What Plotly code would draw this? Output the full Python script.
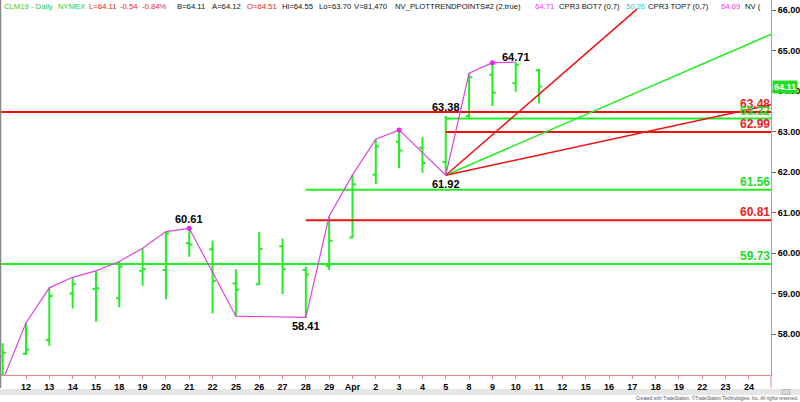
import plotly.graph_objects as go

# ---------------- data ----------------
tick_labels = ["12", "13", "14", "15", "18", "19", "20", "21", "22", "25", "26", "27", "28", "29",
               "Apr", "2", "3", "4", "5", "8", "9", "10", "11", "12", "15", "16", "17", "18", "19",
               "22", "23", "24"]
tick_pos = list(range(len(tick_labels)))

bar_pos = list(range(-1, 23))  # Mar 11 .. Apr 11
bar_open = [57.45, 57.51, 57.85, 59.00, 59.11, 58.88, 59.56, 59.58, 60.25, 60.09, 59.25, 59.23,
            60.17, 59.58, 59.68, 60.38, 61.93, 62.75, 62.60, 62.25, 63.38, 64.40, 64.20, 64.51]
bar_high = [57.77, 58.28, 59.14, 59.40, 59.56, 59.79, 60.12, 60.53, 60.61, 60.30, 59.60, 60.51,
            60.36, 59.66, 60.91, 61.93, 62.81, 63.04, 62.86, 63.38, 64.44, 64.70, 64.71, 64.55]
bar_low = [56.85, 57.48, 57.71, 58.63, 58.30, 58.66, 59.19, 58.86, 59.91, 58.51, 58.44, 59.21,
           58.99, 58.41, 59.58, 60.36, 61.70, 62.09, 61.98, 61.92, 63.30, 63.63, 63.98, 63.70]
bar_close = [57.54, 57.62, 58.94, 59.23, 59.13, 59.66, 59.60, 60.49, 60.21, 59.31, 59.09, 60.10,
             59.60, 59.47, 60.30, 61.70, 62.63, 62.53, 62.22, 63.32, 64.34, 63.96, 64.65, 64.11]

zig_x = [-1, 0, 1, 2, 3, 4, 5, 6, 7, 9, 12, 13, 14, 15, 16, 18, 19, 20, 21]
zig_y = [56.85, 58.28, 59.14, 59.40, 59.56, 59.79, 60.12, 60.53, 60.61, 58.44, 58.41, 60.91,
         61.93, 62.81, 63.04, 61.92, 64.44, 64.70, 64.71]
dot_x = [7, 16, 20]
dot_y = [60.61, 63.04, 64.70]

pivot_labels = ["60.61", "58.41", "63.38", "61.92", "64.71"]
pivot_x = [7, 12, 18, 18, 21]
pivot_y = [60.61, 58.41, 63.38, 61.92, 64.71]
pivot_shift = [9, -9, 9, -9, 5]

level_vals = [63.48, 63.32, 62.99, 61.56, 60.81, 59.73]
level_start = [-2, 18, 18, 12, 12, -2]
level_kind = ["red", "green", "red", "green", "red", "green"]

fan_start_x = 18
fan_start_y = 61.92
fan_end_x = [26.2, 31.95, 31.95]
fan_end_y = [66.02, 65.40, 63.66]
fan_kind = ["red", "green", "red"]

y_ticks = [58, 59, 60, 61, 62, 63, 64, 65, 66]
last_price = 64.11

# ---------------- styling ----------------
GREEN = "#22ee22"
RED = "#ee1111"
LBL_GREEN = "#22dd22"
LBL_RED = "#ee2222"
MAG = "#dd44dd"
AXIS = "#e08a8a"
FONT = "Liberation Sans, Arial, sans-serif"
col = {"red": RED, "green": GREEN}
lblcol = {"red": LBL_RED, "green": LBL_GREEN}

XMIN, XMAX = -1.072, 31.947
YMIN, YMAX = 56.988, 66.247
L, R, T, B = 1, 29, 0, 27
PW, PH = 800 - L - R, 402 - T - B


def px(xp):
    return (xp - L) / PW


def py(yp):
    return (PH + T - yp) / PH


fig = go.Figure()

for v, s, k in zip(level_vals, level_start, level_kind):
    fig.add_trace(go.Scatter(x=[s, XMAX + 1], y=[v, v], mode="lines",
                             line=dict(color=col[k], width=2), hoverinfo="skip"))

fig.add_trace(go.Ohlc(x=bar_pos, open=bar_open, high=bar_high, low=bar_low, close=bar_close,
                      increasing=dict(line=dict(color=GREEN, width=2)),
                      decreasing=dict(line=dict(color=GREEN, width=2)),
                      tickwidth=0.14, hoverinfo="skip"))

for ex, ey, k in zip(fan_end_x, fan_end_y, fan_kind):
    fig.add_trace(go.Scatter(x=[fan_start_x, ex], y=[fan_start_y, ey], mode="lines",
                             line=dict(color=col[k], width=1.5), hoverinfo="skip"))

fig.add_trace(go.Scatter(x=zig_x, y=zig_y, mode="lines", line=dict(color=MAG, width=1.2),
                         hoverinfo="skip"))
fig.add_trace(go.Scatter(x=dot_x, y=dot_y, mode="markers",
                         marker=dict(color="#ee22ee", size=5), hoverinfo="skip"))

ann = []
for t, x, y, s in zip(pivot_labels, pivot_x, pivot_y, pivot_shift):
    ann.append(dict(x=x, y=y, xref="x", yref="y", text=t, showarrow=False, yshift=s,
                    font=dict(family=FONT, size=11, color="black", weight="bold"),
                    xanchor="center", yanchor="middle"))

for v, k in zip(level_vals, level_kind):
    ann.append(dict(x=1, y=v, xref="paper", yref="y", text=f"{v:.2f}", showarrow=False,
                    xanchor="right", yanchor="bottom", xshift=1, yshift=-1,
                    font=dict(family=FONT, size=12, color=lblcol[k], weight="bold")))

ann.append(dict(x=1, y=last_price, xref="paper", yref="y", text=f"{last_price:.2f}",
                showarrow=False, xanchor="left", yanchor="middle", xshift=1,
                bgcolor="#22dd22", borderpad=1,
                font=dict(family=FONT, size=9, color="white", weight="bold")))

header = [
    ("CLM19 - Daily", 2, "#33cc33"), ("NYMEX", 56, "#33cc33"),
    ("L=64.11", 87, "#ee2222"), ("-0.54", 118, "#ee2222"), ("-0.84%", 140, "#ee2222"),
    ("B=64.11", 175, "#111111"), ("A=64.12", 210, "#111111"), ("O=64.51", 245, "#ee2222"),
    ("Hi=64.55", 280, "#111111"), ("Lo=63.70", 317, "#111111"), ("V=81,470", 352, "#111111"),
    ("NV_PLOTTRENDPOINTS#2 (2,true)", 393, "#111111"), ("64.71", 533, "#ee33ee"),
    ("CPR3 BOT7 (0,7)", 557, "#111111"), ("50.26", 624, "#22cccc"),
    ("CPR3 TOP7 (0,7)", 646, "#111111"), ("64.69", 719, "#ee33ee"), ("NV (", 743, "#111111"),
]
for t, x, c in header:
    ann.append(dict(x=px(x), y=py(6), xref="paper", yref="paper", text=t, showarrow=False,
                    xanchor="left", yanchor="middle",
                    font=dict(family=FONT, size=7.7, color=c)))

ann.append(dict(x=px(800), y=py(398), xref="paper", yref="paper",
                text="Created with TradeStation. ©TradeStation Technologies, Inc. All rights reserved.",
                showarrow=False, xanchor="right", yanchor="middle",
                font=dict(family=FONT, size=4.6, color="#555555")))

shapes = [
    dict(type="rect", xref="paper", yref="paper", x0=px(0), x1=px(800), y0=py(389), y1=py(395),
         fillcolor="#e6e6e6", line=dict(width=0), layer="below"),
    dict(type="rect", xref="paper", yref="paper", x0=px(782), x1=px(790), y0=py(389.5),
         y1=py(394.5), fillcolor="#d8d8d8", line=dict(color="#bbbbbb", width=1)),
    dict(type="line", xref="paper", yref="paper", x0=px(0.5), x1=px(0.5), y0=py(0), y1=py(388),
         line=dict(color="#888888", width=1.5)),
    dict(type="line", xref="paper", yref="paper", x0=1, x1=1, y0=0, y1=py(388),
         line=dict(color=AXIS, width=1)),
]

fig.update_layout(
    width=800, height=402,
    margin=dict(l=L, r=R, t=T, b=B),
    paper_bgcolor="white", plot_bgcolor="white",
    showlegend=False,
    annotations=ann, shapes=shapes,
    xaxis=dict(range=[XMIN, XMAX], tickmode="array", tickvals=tick_pos, ticktext=tick_labels,
               ticks="outside", ticklen=3, tickcolor=AXIS, showline=True, linecolor=AXIS,
               linewidth=1, showgrid=False, zeroline=False, rangeslider=dict(visible=False),
               tickfont=dict(family=FONT, size=9, color="black", weight="bold")),
    yaxis=dict(range=[YMIN, YMAX], side="right", tickmode="array", tickvals=y_ticks,
               ticktext=[f"{v:.2f}" for v in y_ticks], ticks="outside", ticklen=4,
               tickcolor="#666666", showline=True, linecolor=AXIS, linewidth=1,
               showgrid=False, zeroline=False,
               tickfont=dict(family=FONT, size=9, color="black", weight="bold")),
)

fig.write_html("out.html", config={"displayModeBar": False},
               post_script="document.body.style.margin='0';document.body.style.overflow='hidden';")
